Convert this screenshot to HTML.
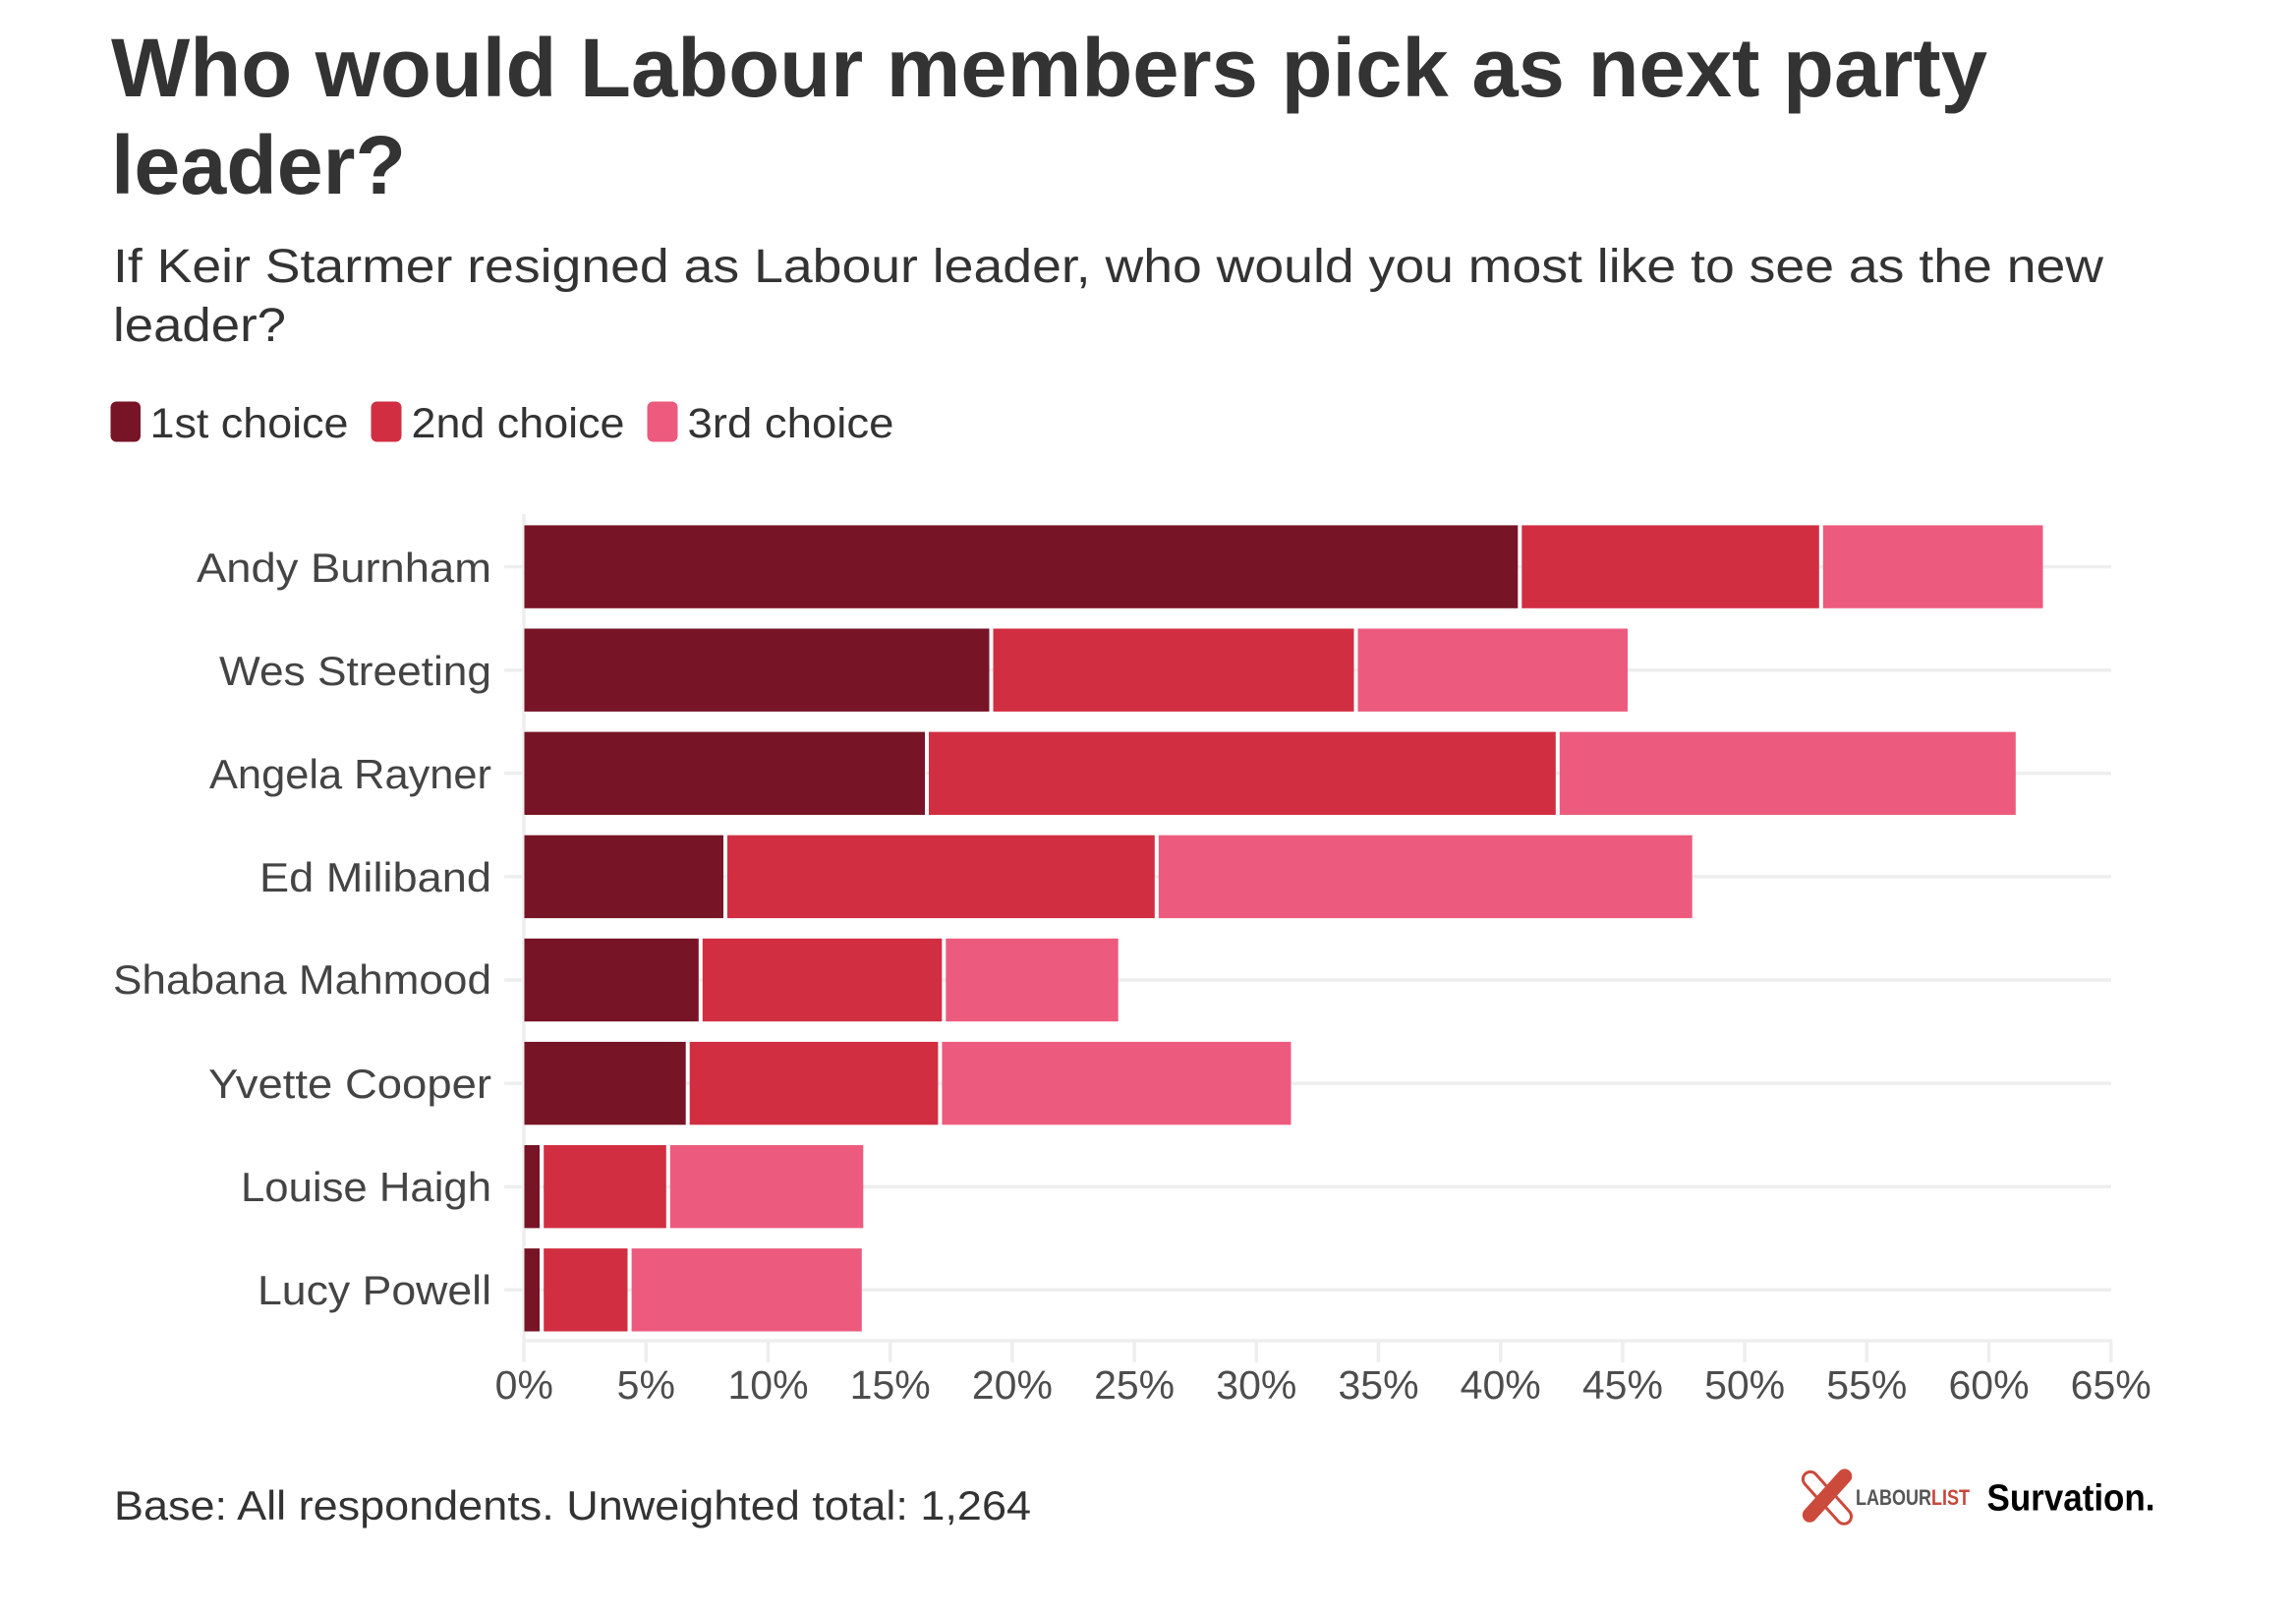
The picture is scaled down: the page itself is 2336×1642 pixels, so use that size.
<!DOCTYPE html>
<html>
<head>
<meta charset="utf-8">
<style>
  html,body{margin:0;padding:0;background:#fff;}
  svg{display:block;}
  text{font-family:"Liberation Sans", Arial, sans-serif;}
</style>
</head>
<body>
<svg width="2336" height="1642" viewBox="0 0 2336 1642" xmlns="http://www.w3.org/2000/svg">
  <rect x="0" y="0" width="2336" height="1642" fill="#ffffff"/>

  <!-- Title -->
  <text x="113" y="98" font-size="84" font-weight="bold" fill="#333333" textLength="1909" lengthAdjust="spacingAndGlyphs">Who would Labour members pick as next party</text>
  <text x="113" y="197" font-size="84" font-weight="bold" fill="#333333" textLength="300" lengthAdjust="spacingAndGlyphs">leader?</text>

  <!-- Subtitle -->
  <text x="115" y="287" font-size="48" fill="#333333" textLength="2025" lengthAdjust="spacingAndGlyphs">If Keir Starmer resigned as Labour leader, who would you most like to see as the new</text>
  <text x="115" y="347" font-size="48" fill="#333333" textLength="176" lengthAdjust="spacingAndGlyphs">leader?</text>

  <!-- Legend -->
  <rect x="112.5" y="408.5" width="30.5" height="41" rx="6" fill="#771426"/>
  <text x="152.5" y="445" font-size="43" fill="#333333" textLength="202" lengthAdjust="spacingAndGlyphs">1st choice</text>
  <rect x="377.5" y="408.5" width="31" height="41" rx="6" fill="#d12e42"/>
  <text x="418.5" y="445" font-size="43" fill="#333333" textLength="217" lengthAdjust="spacingAndGlyphs">2nd choice</text>
  <rect x="658.5" y="408.5" width="31" height="41" rx="6" fill="#ec5b7e"/>
  <text x="699.5" y="445" font-size="43" fill="#333333" textLength="210" lengthAdjust="spacingAndGlyphs">3rd choice</text>

  <!-- Gridlines & axes -->
  <g stroke="#eeeeee" stroke-width="3.5" fill="none">
    <line x1="533" y1="523" x2="533" y2="1386"/>
    <line x1="531.5" y1="1364" x2="2149" y2="1364"/>
    <line x1="513" y1="576.6" x2="2148" y2="576.6"/>
    <line x1="513" y1="681.7" x2="2148" y2="681.7"/>
    <line x1="513" y1="786.8" x2="2148" y2="786.8"/>
    <line x1="513" y1="891.9" x2="2148" y2="891.9"/>
    <line x1="513" y1="997.0" x2="2148" y2="997.0"/>
    <line x1="513" y1="1102.1" x2="2148" y2="1102.1"/>
    <line x1="513" y1="1207.2" x2="2148" y2="1207.2"/>
    <line x1="513" y1="1312.3" x2="2148" y2="1312.3"/>
    <line x1="657.3" y1="1364" x2="657.3" y2="1386"/>
    <line x1="781.5" y1="1364" x2="781.5" y2="1386"/>
    <line x1="905.7" y1="1364" x2="905.7" y2="1386"/>
    <line x1="1029.9" y1="1364" x2="1029.9" y2="1386"/>
    <line x1="1154.1" y1="1364" x2="1154.1" y2="1386"/>
    <line x1="1278.3" y1="1364" x2="1278.3" y2="1386"/>
    <line x1="1402.5" y1="1364" x2="1402.5" y2="1386"/>
    <line x1="1526.7" y1="1364" x2="1526.7" y2="1386"/>
    <line x1="1650.9" y1="1364" x2="1650.9" y2="1386"/>
    <line x1="1775.1" y1="1364" x2="1775.1" y2="1386"/>
    <line x1="1899.3" y1="1364" x2="1899.3" y2="1386"/>
    <line x1="2023.5" y1="1364" x2="2023.5" y2="1386"/>
    <line x1="2147.7" y1="1364" x2="2147.7" y2="1386"/>
  </g>

  <!-- Bars -->
  <g>
    <rect x="533.5" y="534.4" width="1010.8" height="84.4" fill="#771426"/>
    <rect x="1548.3" y="534.4" width="302.5" height="84.4" fill="#d12e42"/>
    <rect x="1854.8" y="534.4" width="223.7" height="84.4" fill="#ec5b7e"/>
  </g>
  <g>
    <rect x="533.5" y="639.5" width="473" height="84.4" fill="#771426"/>
    <rect x="1010.5" y="639.5" width="367" height="84.4" fill="#d12e42"/>
    <rect x="1381.5" y="639.5" width="274.5" height="84.4" fill="#ec5b7e"/>
  </g>
  <g>
    <rect x="533.5" y="744.6" width="407.5" height="84.4" fill="#771426"/>
    <rect x="945" y="744.6" width="637.8" height="84.4" fill="#d12e42"/>
    <rect x="1586.8" y="744.6" width="464" height="84.4" fill="#ec5b7e"/>
  </g>
  <g>
    <rect x="533.5" y="849.7" width="202.5" height="84.4" fill="#771426"/>
    <rect x="740" y="849.7" width="434.8" height="84.4" fill="#d12e42"/>
    <rect x="1178.8" y="849.7" width="542.9" height="84.4" fill="#ec5b7e"/>
  </g>
  <g>
    <rect x="533.5" y="954.8" width="177.3" height="84.4" fill="#771426"/>
    <rect x="714.8" y="954.8" width="243.5" height="84.4" fill="#d12e42"/>
    <rect x="962.3" y="954.8" width="175.4" height="84.4" fill="#ec5b7e"/>
  </g>
  <g>
    <rect x="533.5" y="1059.9" width="164.2" height="84.4" fill="#771426"/>
    <rect x="701.7" y="1059.9" width="252.7" height="84.4" fill="#d12e42"/>
    <rect x="958.4" y="1059.9" width="355.1" height="84.4" fill="#ec5b7e"/>
  </g>
  <g>
    <rect x="533.5" y="1165.0" width="15.5" height="84.4" fill="#771426"/>
    <rect x="553.2" y="1165.0" width="124.6" height="84.4" fill="#d12e42"/>
    <rect x="681.8" y="1165.0" width="196.5" height="84.4" fill="#ec5b7e"/>
  </g>
  <g>
    <rect x="533.5" y="1270.1" width="15.5" height="84.4" fill="#771426"/>
    <rect x="553.2" y="1270.1" width="85.3" height="84.4" fill="#d12e42"/>
    <rect x="642.6" y="1270.1" width="234.2" height="84.4" fill="#ec5b7e"/>
  </g>

  <!-- Y labels -->
  <g font-size="42" fill="#444444" text-anchor="end">
    <text x="500" y="592" textLength="300" lengthAdjust="spacingAndGlyphs">Andy Burnham</text>
    <text x="500" y="697" textLength="277" lengthAdjust="spacingAndGlyphs">Wes Streeting</text>
    <text x="500" y="802" textLength="287" lengthAdjust="spacingAndGlyphs">Angela Rayner</text>
    <text x="500" y="907" textLength="236" lengthAdjust="spacingAndGlyphs">Ed Miliband</text>
    <text x="500" y="1011" textLength="385" lengthAdjust="spacingAndGlyphs">Shabana Mahmood</text>
    <text x="500" y="1117" textLength="288" lengthAdjust="spacingAndGlyphs">Yvette Cooper</text>
    <text x="500" y="1222" textLength="255" lengthAdjust="spacingAndGlyphs">Louise Haigh</text>
    <text x="500" y="1327" textLength="238" lengthAdjust="spacingAndGlyphs">Lucy Powell</text>
  </g>

  <!-- X tick labels -->
  <g font-size="41" fill="#4d4d4d" text-anchor="middle">
    <text x="533.3" y="1423">0%</text>
    <text x="657.3" y="1423">5%</text>
    <text x="781.5" y="1423">10%</text>
    <text x="905.7" y="1423">15%</text>
    <text x="1029.9" y="1423">20%</text>
    <text x="1154.1" y="1423">25%</text>
    <text x="1278.3" y="1423">30%</text>
    <text x="1402.5" y="1423">35%</text>
    <text x="1526.7" y="1423">40%</text>
    <text x="1650.9" y="1423">45%</text>
    <text x="1775.1" y="1423">50%</text>
    <text x="1899.3" y="1423">55%</text>
    <text x="2023.5" y="1423">60%</text>
    <text x="2147.7" y="1423">65%</text>
  </g>

  <!-- Footer -->
  <text x="116" y="1546" font-size="42" fill="#333333" textLength="933" lengthAdjust="spacingAndGlyphs">Base: All respondents. Unweighted total: 1,264</text>

  <!-- LabourList logo -->
  <g>
    <rect x="1827" y="1515" width="66" height="15" rx="7.5" fill="none" stroke="#cc4a3c" stroke-width="3" transform="rotate(48 1858 1522)"/>
    <rect x="1825" y="1515" width="68" height="15" rx="7.5" fill="#cc4a3c" transform="rotate(-48 1858 1522)"/>
  </g>
  <text x="1888" y="1531" font-size="22" font-weight="bold" textLength="116" lengthAdjust="spacingAndGlyphs"><tspan fill="#555555">LABOUR</tspan><tspan fill="#c8463b">LIST</tspan></text>

  <!-- Survation logo -->
  <text x="2021.5" y="1536.5" font-size="38" font-weight="bold" fill="#000000" textLength="171" lengthAdjust="spacingAndGlyphs">Survation.</text>
</svg>
</body>
</html>
